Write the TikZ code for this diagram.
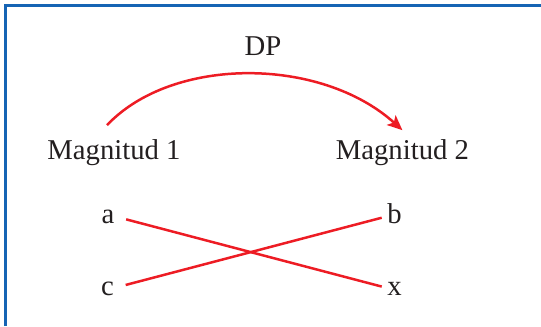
\documentclass[tikz,border=0pt]{standalone}
\usepackage{fontspec}
\setmainfont{Liberation Serif}
\usetikzlibrary{arrows.meta}

\definecolor{framebl}{RGB}{22,100,180}
\definecolor{linered}{RGB}{237,28,36}
\definecolor{textgray}{RGB}{35,31,32}

\begin{document}
\begin{tikzpicture}[
    x=1bp, y=-1bp,
    txt/.style={
        anchor=base,
        inner sep=0pt,
        text=textgray,
        font=\fontsize{28.7bp}{34bp}\selectfont
    },
    letter/.style={
        txt,
        text height=14bp,
        text depth=0pt
    },
    cross/.style={
        draw=linered,
        line width=2.5bp
    },
    dparrow/.style={
        draw=linered,
        line width=2.5bp,
        -{Stealth[length=15bp,width=13bp,inset=3.5bp]}
    }
]

\useasboundingbox (0, 0) rectangle (541, 326);

% Frame (only top and left edges visible)
\draw[framebl, line width=3.5bp] (5.7, 326) -- (5.7, 5.7) -- (541, 5.7);

% Title
\node[txt] (dp) at (263, 55.7) {DP};

% Magnitudes
\node[txt] (m1) at (114, 159.3) {Magnitud 1};
\node[txt] (m2) at (402.4, 159.3) {Magnitud 2};

% Arrow between magnitudes
\draw[dparrow] ([xshift=-7bp, yshift=14bp]m1.north)
    .. controls +(65, -69) and +(-82, -74) .. ([yshift=9bp]m2.north);

% Values
\node[letter] (a) at (108, 223.3) {a};
\node[letter] (b) at (394.5, 223.3) {b};
\node[letter] (c) at (107.5, 295) {c};
\node[letter] (x) at (394.5, 295) {x};

% Crossed lines
\draw[cross, shorten <=12bp, shorten >=5.6bp] (a.east) -- (x.west);
\draw[cross, shorten <=12bp, shorten >=5.6bp] (c.east) -- (b.west);

\end{tikzpicture}
\end{document}
